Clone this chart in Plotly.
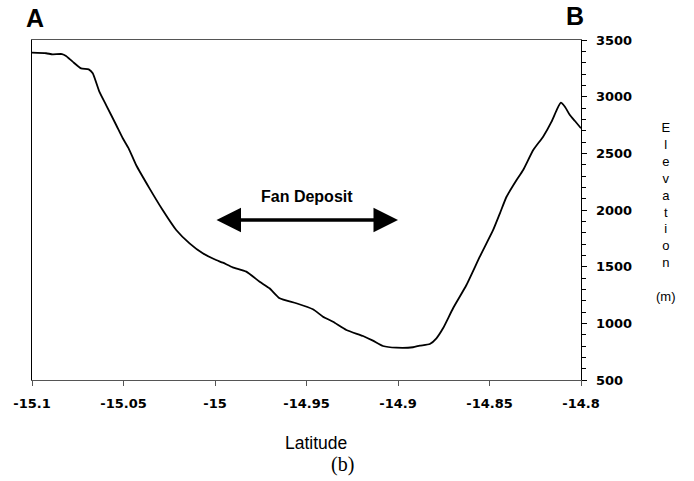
import plotly.graph_objects as go

latitude = [-15.1, -15.0923, -15.0887, -15.0836, -15.0814, -15.0778, -15.0732, -15.0690,
            -15.0668, -15.0632, -15.0595, -15.0540, -15.0504, -15.0472, -15.0431, -15.0358,
            -15.0286, -15.0212, -15.0139, -15.0067, -15.0003, -14.9957, -14.9903, -14.9829,
            -14.9756, -14.9702, -14.9647, -14.9556, -14.9465, -14.9410, -14.9355, -14.9282,
            -14.9191, -14.9137, -14.9082, -14.9009, -14.8918, -14.8881, -14.8826, -14.8790,
            -14.8754, -14.8699, -14.8626, -14.8553, -14.8480, -14.8443, -14.8407, -14.8352,
            -14.8316, -14.8261, -14.8207, -14.8161, -14.8133, -14.8110, -14.8088, -14.8061,
            -14.8033, -14.8000]
elevation = [3388, 3383, 3374, 3376, 3359, 3309, 3250, 3241,
             3206, 3044, 2926, 2750, 2633, 2544, 2397, 2191,
             2000, 1824, 1706, 1618, 1565, 1535, 1494, 1456,
             1367, 1309, 1221, 1177, 1124, 1059, 1014, 941,
             888, 847, 800, 785, 789, 803, 818, 868,
             956, 1133, 1338, 1588, 1824, 1971, 2117, 2265,
             2353, 2529, 2647, 2779, 2882, 2947, 2911, 2838,
             2785, 2721]

x_tick_vals = [-15.1, -15.05, -15.0, -14.95, -14.9, -14.85, -14.8]
x_tick_text = ["-15.1", "-15.05", "-15", "-14.95", "-14.9", "-14.85", "-14.8"]
y_tick_vals = [500, 1000, 1500, 2000, 2500, 3000, 3500]
y_tick_text = ["500", "1000", "1500", "2000", "2500", "3000", "3500"]

fan_start, fan_end, fan_elev = -15.0, -14.9, 1912

W, H = 694, 481
L, T = 32, 40
R = W - 581
B = H - 380
PW, PH = W - L - R, H - T - B


def px(x):
    return (x - L) / PW


def py(y):
    return (T + PH - y) / PH


fig = go.Figure()
fig.add_trace(go.Scatter(x=latitude, y=elevation, mode="lines",
                         line=dict(color="black", width=1.8, shape="spline", smoothing=0.5),
                         showlegend=False, hoverinfo="skip"))

tick_font = dict(family="DejaVu Sans", size=13, color="black", weight="bold")

fig.update_layout(
    width=W, height=H,
    margin=dict(l=L, r=R, t=T, b=B),
    paper_bgcolor="white", plot_bgcolor="white",
    xaxis=dict(range=[-15.1, -14.8], tickvals=x_tick_vals, ticktext=x_tick_text,
               showgrid=False, zeroline=False, showline=True, linecolor="#555555",
               linewidth=1, mirror=True, ticks="outside", ticklen=5, tickcolor="#555555",
               tickfont=tick_font, ticklabelstandoff=6, automargin=False),
    yaxis=dict(range=[500, 3500], side="right", tickvals=y_tick_vals, ticktext=y_tick_text,
               showgrid=False, zeroline=False, showline=True, linecolor="black",
               linewidth=1.3, mirror=True, ticks="outside", ticklen=5, tickcolor="black",
               minor=dict(dtick=100, ticks="outside", ticklen=4, tickcolor="black"),
               tickfont=tick_font, ticklabelstandoff=6, automargin=False),
    font=dict(family="Liberation Sans", color="black"),
)


def label(text, x, y, size, family="Liberation Sans"):
    fig.add_annotation(text=text, xref="paper", yref="paper", x=px(x), y=py(y),
                       xanchor="center", yanchor="middle", showarrow=False,
                       align="center", font=dict(size=size, family=family))


label("<b>A</b>", 34.5, 17.5, 25)
label("<b>B</b>", 575, 15.5, 25)
label("E<br>l<br>e<br>v<br>a<br>t<br>i<br>o<br>n<br> <br>(m)", 665.5, 212, 13)
label("Latitude", 316, 443, 17.5)
label("(b)", 342, 464, 20, "Liberation Serif")

fig.add_annotation(text="<b>Fan Deposit</b>", x=(fan_start + fan_end) / 2, y=2115,
                   showarrow=False, font=dict(size=16, family="Liberation Sans"))
fig.add_annotation(x=fan_end, y=fan_elev, ax=fan_start, ay=fan_elev, axref="x", ayref="y",
                   text="", showarrow=True, arrowhead=2, startarrowhead=2, arrowside="end+start",
                   arrowwidth=3.5, arrowsize=1.4, startarrowsize=1.4, arrowcolor="black")

fig.write_html("out.html", config={"displayModeBar": False, "staticPlot": True},
               post_script="document.body.style.margin='0';document.body.style.overflow='hidden';")
